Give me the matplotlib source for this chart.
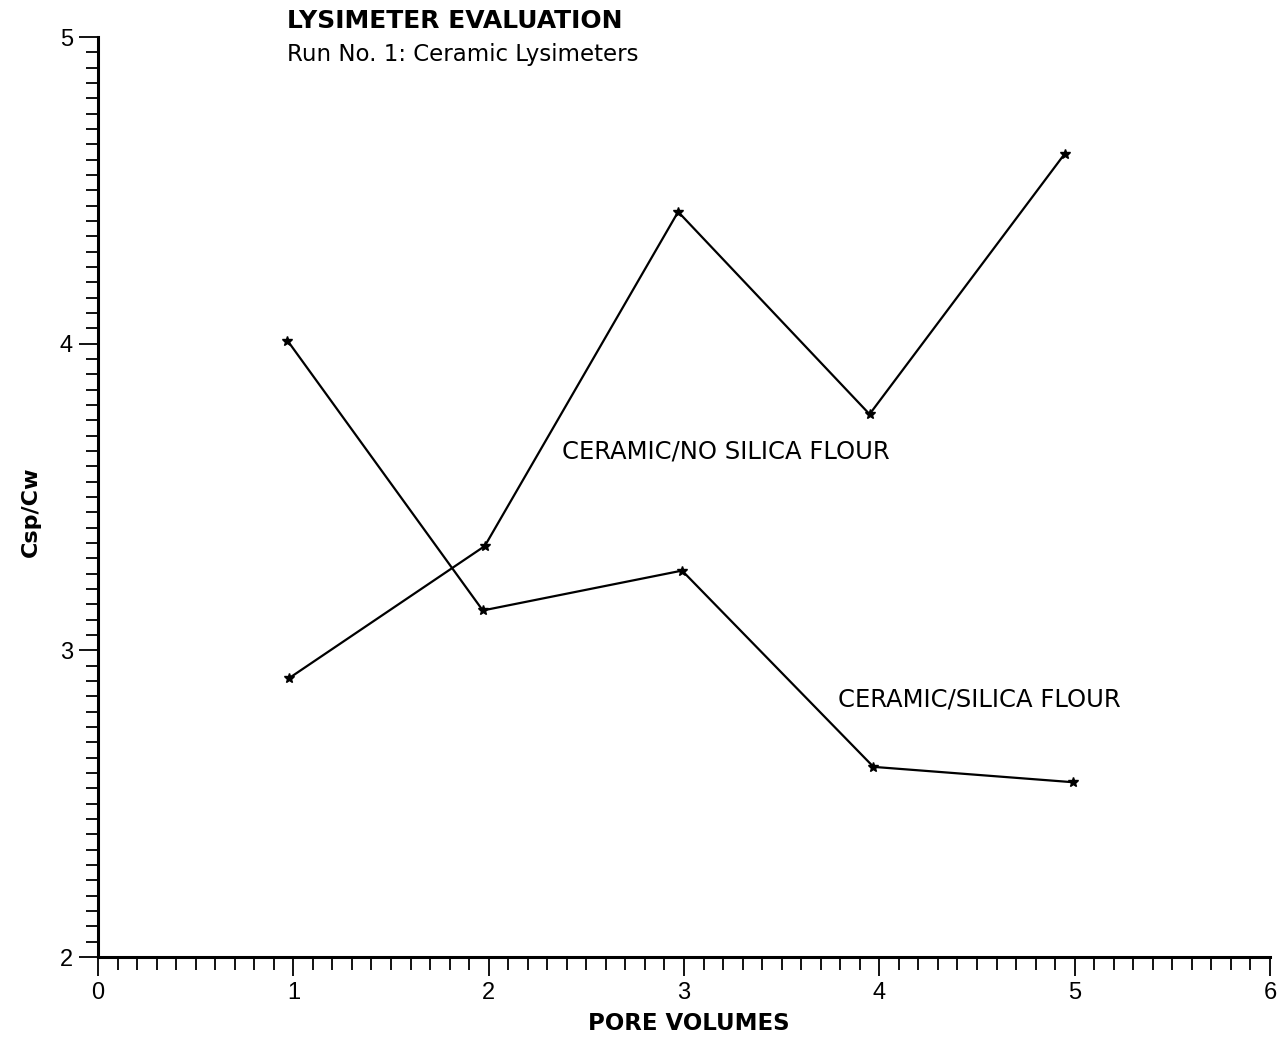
import matplotlib
matplotlib.use("Agg")
import matplotlib.pyplot as plt
from matplotlib.ticker import MultipleLocator

plt.rcParams['font.family'] = ['Liberation Sans', 'DejaVu Sans']

# Data
x_silica = [0.97, 1.97, 2.99, 3.97, 4.99]
y_silica = [4.01, 3.13, 3.26, 2.62, 2.57]
x_nosilica = [0.98, 1.98, 2.97, 3.95, 4.95]
y_nosilica = [2.91, 3.34, 4.43, 3.77, 4.62]
x_ticks = [0, 1, 2, 3, 4, 5, 6]
y_ticks = [2, 3, 4, 5]

fig = plt.figure(figsize=(12.86, 10.4), dpi=100)
ax = fig.add_axes([98/1286, 83/1040, (1270-98)/1286, (957-37)/1040])

for xs, ys in [(x_silica, y_silica), (x_nosilica, y_nosilica)]:
    ax.plot(xs, ys, color='black', lw=1.6, marker='*', ms=7,
            mfc='black', mec='black', clip_on=False)

ax.set_xlim(0, 6)
ax.set_ylim(2, 5)
ax.set_xticks(x_ticks)
ax.set_yticks(y_ticks)
ax.xaxis.set_minor_locator(MultipleLocator(0.1))
ax.yaxis.set_minor_locator(MultipleLocator(0.05))
for s in ['top', 'right']:
    ax.spines[s].set_visible(False)
for s in ['left', 'bottom']:
    ax.spines[s].set_linewidth(2.2)
ax.tick_params(axis='both', which='major', direction='out', length=14, width=1.3,
               labelsize=17, pad=4)
ax.tick_params(axis='both', which='minor', direction='out', length=9, width=1.3)

ax.set_xlabel('PORE VOLUMES', fontsize=16.5, fontweight='bold', family='DejaVu Sans')
ax.xaxis.set_label_coords(0.504, -0.060)
ax.set_ylabel('Csp/Cw', fontsize=16, fontweight='bold', family='DejaVu Sans')
ax.yaxis.set_label_coords(-0.049, 0.484)

fig.text(287/1286, 1 - 21/1040, 'LYSIMETER EVALUATION', fontsize=18, fontweight='bold',
         family='DejaVu Sans', ha='left', va='center')
fig.text(287/1286, 1 - 55/1040, 'Run No. 1: Ceramic Lysimeters', fontsize=16.5,
         family='DejaVu Sans', ha='left', va='center')

ax.text(2.375, 3.647, 'CERAMIC/NO SILICA FLOUR', fontsize=17.5, family='DejaVu Sans',
        ha='left', va='center')
ax.text(3.79, 2.841, 'CERAMIC/SILICA FLOUR', fontsize=17.5, family='DejaVu Sans',
        ha='left', va='center')

fig.savefig('out.png', dpi=100, facecolor='white')
